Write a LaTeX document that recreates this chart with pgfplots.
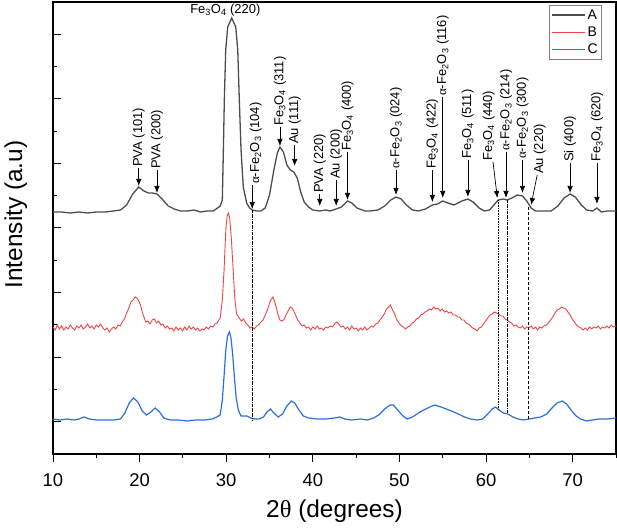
\documentclass[border=0pt]{standalone}
\usepackage{fontspec}
\setmainfont{Liberation Sans}
\newfontfamily\greekserif{Liberation Serif}
\usepackage{pgfplots}
\pgfplotsset{compat=1.18}
\usetikzlibrary{arrows.meta}

\definecolor{cA}{HTML}{4D4D4D}
\definecolor{cB}{HTML}{F04545}
\definecolor{cC}{HTML}{2B6FDC}

\newcommand{\magn}{Fe\textsubscript{3}O\textsubscript{4}}
\newcommand{\hema}{{\greekserif α}-Fe\textsubscript{2}O\textsubscript{3}}
\newcommand{\annfont}{\fontsize{13}{15}\selectfont}
% text x, arrow start x, arrow start y, arrow tip x, arrow tip y, label
\newcommand{\peaklabel}[6]{%
  \draw[-{Latex[length=7bp,width=5.5bp]}, line width=0.7pt, black]
    (axis cs:#2,#3) -- (axis cs:#4,#5);
  \node[rotate=90, anchor=west, inner sep=1bp, font=\annfont]
    at (axis cs:#1,#3) {#6};}

\begin{document}
\begin{tikzpicture}
\begin{axis}[
  name=ax,
  scale only axis,
  width=563bp, height=452bp,
  xmin=10, xmax=75, ymin=0, ymax=452,
  clip=false,
  axis line style={line width=1.2pt},
  tick align=inside,
  every tick/.style={black, line width=1pt},
  major tick length=8bp, minor tick length=4bp,
  major x tick style={yshift=-8bp},
  minor x tick style={yshift=-4bp},
  xtick={10,20,...,70}, minor xtick={15,25,...,75},
  ytick={32.29,96.87,161.45,226.03,290.61,355.19,419.77},
  minor ytick={64.58,129.16,193.74,258.32,322.90,387.48},
  yticklabels={},
  xtick pos=left, ytick pos=left,
  /pgf/number format/assume math mode=true,
  xticklabel style={font=\fontsize{18.5}{21}\selectfont, yshift=-16bp},
  xlabel={2{\greekserif θ} (degrees)},
  ylabel={Intensity (a.u)},
  xlabel style={font=\fontsize{24.5}{28}\selectfont, at={(axis description cs:0.5,-0.126)}, anchor=center},
  ylabel style={font=\fontsize{24.5}{28}\selectfont, at={(axis description cs:-0.066,0.53)}, anchor=center},
  legend style={at={(axis description cs:0.975,0.993)}, anchor=north east,
    draw=gray, line width=0.6pt, font=\fontsize{14}{16}\selectfont,
    inner sep=2bp, row sep=2bp},
  legend cell align=left,
  legend image code/.code={\draw[#1] (0bp,0bp) -- (33bp,0bp);},
]

% sample A
\addplot[cA, line width=1.3pt] table {
x y
10.0 242
11 242
12 241
13 242
14 241
15 242
16 242
17 243
17.8 244
18.5 249
19.2 260
19.9 267
20.5 263
21.0 261
21.5 261
22.0 260
22.6 255
23.3 248
24.0 245
24.7 243
25.5 243
26.3 244
27 242
27.8 243
28.5 243
29.0 246
29.3 248
29.55 254
29.67 304
29.78 354
29.94 404
30.17 427
30.63 436
31.10 427
31.33 404
31.51 354
31.71 304
31.97 267
32.36 251
32.7 246
33.0 244
33.5 243
34.0 243
34.5 246
35.0 259
35.5 284
35.9 301
36.2 307
36.6 302
37.0 289
37.4 284
37.8 282
38.2 276
38.6 262
39.0 252
39.5 247
40.0 244
40.8 243
41.5 244
42.0 243
42.7 245
43.3 247
44.0 253
44.5 251
45.1 246
46.0 243
46.6 243
47.5 244
48.3 248
49.0 254
49.6 257
50.2 255
50.8 249
51.5 244
52.2 243
53.0 245
53.8 249
54.4 250
55.0 253
55.6 251
56.3 249
57.2 253
57.9 255
58.5 252
59.2 246
59.8 243
60.4 244
61.0 250
61.4 254
62.0 255
62.4 254
63.0 256
63.6 259
64.2 258
64.7 253
65.2 246
65.7 243
66.5 243
67.5 243
68.3 248
69.0 256
69.7 260
70.3 257
71.0 249
71.6 244
72.3 243
72.8 246
73.3 242
74.0 243
75.0 243
};
\addlegendentry{A}

% sample B
\addplot[cB, line width=0.9pt] table {
x y
10.0 127
10.25 124
10.5 129
10.75 125
11.0 128
11.25 124
11.5 127
11.75 125
12.0 129
12.25 126
12.5 124
12.75 128
13.0 126
13.25 129
13.5 125
13.75 127
14.0 130
14.25 126
14.5 128
14.75 125
15.0 129
15.25 127
15.5 130
15.75 126
16.0 124
16.25 126
16.5 122
16.75 125
17.0 127
17.25 125
17.5 129
17.75 128
18.0 132
18.25 135
18.5 141
18.75 146
19.0 152
19.25 154
19.5 157
19.7 156
19.9 153
20.1 149
20.3 142
20.5 137
20.7 132
20.95 133
21.2 130
21.45 134
21.7 135
21.95 131
22.2 133
22.45 129
22.7 130
22.95 126
23.2 128
23.45 125
23.7 126
23.95 123
24.2 127
24.45 124
24.7 126
24.95 123
25.2 127
25.45 124
25.7 128
25.95 125
26.2 127
26.45 124
26.7 126
26.95 123
27.2 125
27.45 124
27.7 127
27.95 125
28.2 128
28.45 127
28.7 130
28.95 131
29.15 134
29.3 136
29.55 154
29.75 184
29.95 224
30.1 238
30.25 241
30.4 236
30.6 214
30.8 184
31.0 154
31.2 140
31.5 136
31.75 133
32.0 135
32.25 131
32.5 129
32.75 126
33.0 127
33.25 125
33.5 128
33.75 129
34.0 132
34.25 134
34.5 139
34.75 144
35.0 151
35.2 155
35.4 157
35.6 152
35.8 146
36.0 139
36.2 134
36.45 133
36.7 135
36.95 140
37.2 144
37.4 147
37.6 146
37.8 143
38.0 139
38.25 134
38.5 131
38.75 128
39.0 129
39.25 126
39.5 127
39.75 124
40.0 127
40.25 125
40.5 128
40.75 125
41.0 126
41.25 124
41.5 127
41.75 126
42.0 128
42.25 127
42.5 130
42.75 132
43.0 130
43.25 127
43.5 128
43.75 125
44.0 127
44.25 124
44.5 128
44.75 125
45.0 126
45.25 123
45.5 126
45.75 124
46.0 127
46.25 124
46.5 126
46.75 128
47.0 127
47.25 130
47.5 131
47.75 134
48.0 137
48.25 140
48.5 145
48.75 147
48.95 149
49.2 144
49.45 140
49.7 134
49.95 131
50.2 128
50.45 127
50.7 125
50.95 127
51.2 128
51.45 131
51.7 132
51.95 135
52.2 136
52.45 139
52.7 140
52.95 142
53.2 143
53.45 145
53.7 144
53.95 147
54.2 145
54.45 146
54.7 143
54.95 145
55.2 142
55.45 143
55.7 141
55.95 142
56.2 139
56.45 139
56.7 137
56.95 137
57.2 134
57.45 134
57.7 131
57.95 130
58.2 128
58.45 126
58.7 125
58.95 123
59.2 126
59.45 127
59.7 130
59.95 133
60.2 136
60.45 139
60.7 140
60.95 142
61.2 141
61.45 140
61.7 138
61.95 138
62.2 135
62.45 134
62.7 132
62.95 131
63.2 128
63.45 129
63.7 127
63.95 126
64.2 128
64.45 125
64.7 127
64.95 126
65.2 128
65.45 125
65.7 127
65.95 124
66.2 127
66.45 126
66.7 128
66.95 129
67.2 131
67.45 134
67.7 137
67.95 141
68.2 144
68.45 145
68.7 147
68.95 146
69.2 145
69.45 142
69.7 139
69.95 135
70.2 132
70.45 129
70.7 127
70.95 126
71.2 124
71.45 126
71.7 124
71.95 127
72.2 125
72.45 127
72.7 126
72.95 128
73.2 125
73.45 127
73.7 126
73.95 128
74.2 126
74.45 129
74.7 127
75.0 128
};
\addlegendentry{B}

% sample C
\addplot[cC, line width=1.2pt] table {
x y
10.0 35
10.8 34
11.6 35
12.4 34
13.0 35
13.6 37
14.2 35
15.0 34
16.0 34
17.0 34
17.8 35
18.3 41
18.8 51
19.3 56
19.8 52
20.3 43
20.8 39
21.3 42
21.8 46
22.3 42
22.8 36
23.5 34
24.5 34
25.5 33
26.5 34
27.5 34
28.4 35
28.9 37
29.3 39
29.55 54
29.75 78
29.95 104
30.15 118
30.36 122
30.55 116
30.75 99
30.93 78
31.15 56
31.4 44
31.7 38
32.4 38
32.8 36
33.2 35
33.8 35
34.3 37
34.7 42
35.1 45
35.5 41
36.0 37
36.5 40
37.0 48
37.5 53
37.9 51
38.4 44
38.9 38
39.5 36
40.5 35
41.5 35
42.5 36
43.1 37
43.7 35
44.5 34
45.5 35
46.3 34
47.0 36
47.6 39
48.3 45
48.9 49
49.3 49
49.8 44
50.4 38
50.9 35
51.5 37
52.2 41
52.8 44
53.5 47
54.1 49
54.8 47
55.4 45
56.0 43
56.8 40
57.5 37
58.2 35
59.0 34
59.6 35
60.2 40
60.7 45
61.1 47
61.5 44
62.0 41
62.5 40
63.1 37
63.7 35
64.3 34
65.0 35
65.6 36
66.3 37
67.0 40
67.6 46
68.2 51
68.8 53
69.3 50
69.8 44
70.4 38
70.9 35
71.6 33
72.3 34
73.0 35
74.0 35
75.0 36
};
\addlegendentry{C}

% guide lines through the three patterns
\draw[densely dash dot, line width=0.6pt] (axis cs:33.0,244) -- (axis cs:33.0,34);
\draw[densely dotted, line width=0.6pt] (axis cs:61.4,254) -- (axis cs:61.4,44);
\draw[densely dash dot, line width=0.6pt] (axis cs:62.4,254) -- (axis cs:62.4,41);
\draw[densely dashed, line width=0.6pt] (axis cs:64.9,247) -- (axis cs:64.9,34);

% peak assignments
\node[font=\annfont, anchor=center] at (axis cs:29.9,444) {\magn{} (220)};
\peaklabel{19.9}{19.9}{286}{19.9}{268}{PVA (101)}
\peaklabel{22.0}{22.0}{284}{22.0}{261}{PVA (200)}
\peaklabel{33.4}{33.0}{269}{33.0}{245}{\hema{} (104)}
\peaklabel{36.2}{36.2}{327}{36.2}{308}{\magn{} (311)}
\peaklabel{37.9}{37.9}{309}{37.9}{288}{Au (111)}
\peaklabel{40.8}{40.8}{260}{40.8}{248}{PVA (220)}
\peaklabel{42.7}{42.7}{274}{42.7}{248}{Au (200)}
\peaklabel{44.0}{44.0}{302}{44.0}{254}{\magn{} (400)}
\peaklabel{49.6}{49.6}{284}{49.6}{259}{\hema{} (024)}
\peaklabel{53.8}{53.8}{284}{53.8}{252}{\magn{} (422)}
\peaklabel{55.0}{55.0}{357}{55.0}{256}{\hema{} (116)}
\peaklabel{57.9}{57.9}{294}{57.9}{257}{\magn{} (511)}
\peaklabel{60.3}{60.8}{292}{61.3}{256}{\magn{} (440)}
\peaklabel{62.3}{62.3}{302}{62.3}{256}{\hema{} (214)}
\peaklabel{64.2}{64.2}{294}{64.2}{261}{\hema{} (300)}
\peaklabel{66.2}{65.9}{279}{65.2}{249}{Au (220)}
\peaklabel{69.7}{69.7}{291}{69.7}{261}{Si (400)}
\peaklabel{72.8}{72.8}{291}{72.8}{250}{\magn{} (620)}
\end{axis}
\pgfresetboundingbox
\path[use as bounding box] ([xshift=-53bp,yshift=-74bp]ax.south west)
  rectangle ([xshift=1bp,yshift=2bp]ax.north east);
\end{tikzpicture}
\end{document}
